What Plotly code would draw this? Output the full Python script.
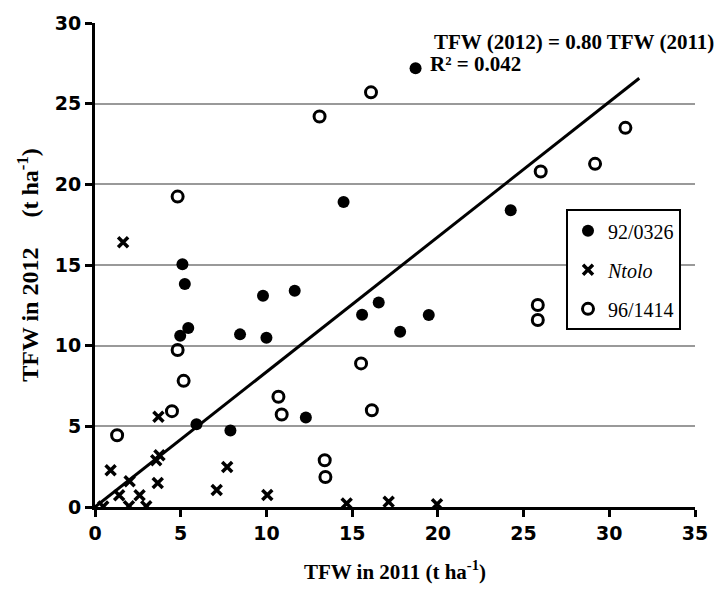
import plotly.graph_objects as go

# ---- data ----
g1_x = [18.7, 14.5, 24.25, 5.1, 5.24, 9.8, 11.65, 5.44, 4.97, 8.46, 10.0, 16.55, 15.58, 17.8, 19.47, 5.92, 7.9, 12.3]
g1_y = [27.2, 18.9, 18.4, 15.05, 13.82, 13.1, 13.41, 11.1, 10.62, 10.7, 10.49, 12.67, 11.92, 10.86, 11.9, 5.13, 4.74, 5.55]

nt_x = [1.64, 3.7, 0.91, 3.76, 3.57, 3.66, 2.02, 1.41, 2.6, 0.48, 1.98, 2.99, 7.71, 7.1, 10.05, 14.68, 17.13, 19.95]
nt_y = [16.41, 5.59, 2.28, 3.21, 2.9, 1.49, 1.6, 0.73, 0.73, 0.03, 0.05, 0.04, 2.48, 1.06, 0.75, 0.22, 0.33, 0.17]

g3_x = [13.1, 16.1, 4.82, 26.0, 29.17, 30.94, 25.83, 25.83, 4.82, 5.17, 4.49, 1.29, 10.7, 10.89, 16.15, 13.4, 13.44, 15.52]
g3_y = [24.2, 25.7, 19.24, 20.8, 21.27, 23.5, 12.52, 11.59, 9.73, 7.82, 5.94, 4.45, 6.83, 5.73, 6.0, 2.9, 1.86, 8.9]

trend_x = [0.0, 31.75]
trend_slope = 0.837
trend_y = [trend_slope * v for v in trend_x]

x_ticks = [0, 5, 10, 15, 20, 25, 30, 35]
y_ticks = [0, 5, 10, 15, 20, 25, 30]

eq_text = "TFW (2012) = 0.80 TFW (2011)"
r2_text = "R² = 0.042"

serif = "Liberation Serif"
tickfont = dict(family="DejaVu Sans", size=19, color="black", weight=900)

fig = go.Figure()
fig.add_trace(go.Scatter(x=trend_x, y=trend_y, mode="lines", line=dict(color="black", width=3),
                         showlegend=False, hoverinfo="skip"))
fig.add_trace(go.Scatter(x=g1_x, y=g1_y, mode="markers", name="92/0326", legendgroup="a",
                         marker=dict(symbol="circle", size=12, color="black")))
fig.add_trace(go.Scatter(x=nt_x, y=nt_y, mode="markers", name="<i>Ntolo</i>", legendgroup="b",
                         marker=dict(symbol="x-thin-open", size=10, color="black",
                                     line=dict(width=3.5, color="black"))))
fig.add_trace(go.Scatter(x=g3_x, y=g3_y, mode="markers", name="96/1414", legendgroup="c",
                         marker=dict(symbol="circle-open", size=11, color="black",
                                     line=dict(width=3, color="black"))))

fig.update_layout(
    width=720, height=594,
    margin=dict(l=95, r=20, t=23, b=87),
    paper_bgcolor="white", plot_bgcolor="white",
    xaxis=dict(range=[0, 35], tickvals=x_ticks,
               ticktext=["<b>%d</b>" % v for v in x_ticks],
               showgrid=False, zeroline=False,
               showline=True, linecolor="black", linewidth=3,
               ticks="outside", ticklen=7, tickwidth=3, tickcolor="black",
               tickfont=tickfont,
               title=dict(text="TFW in 2011 (t ha<sup>-1</sup>)",
                          font=dict(family=serif, size=21, color="black", weight="bold"), standoff=22)),
    yaxis=dict(range=[0, 30], tickvals=y_ticks,
               ticktext=["<b>%d</b>" % v for v in y_ticks],
               showgrid=True, gridcolor="#999999", gridwidth=2,
               zeroline=False, showline=True, linecolor="black", linewidth=3,
               ticks="outside", ticklen=7, tickwidth=3, tickcolor="black",
               tickfont=tickfont,
               title=dict(text="TFW in 2012     (t ha<sup>-1</sup>)",
                          font=dict(family=serif, size=24, color="black", weight="bold"), standoff=10)),
    legend=dict(x=0.785, y=0.615, xanchor="left", yanchor="top",
                bordercolor="black", borderwidth=2, bgcolor="white",
                font=dict(family=serif, size=20, color="black"),
                tracegroupgap=10, itemwidth=30),
    annotations=[
        dict(x=1.035, y=0.96, xref="paper", yref="paper", xanchor="right", yanchor="middle",
             text="<b>" + eq_text + "</b>", showarrow=False,
             font=dict(family=serif, size=21, color="black")),
        dict(x=0.555, y=0.915, xref="paper", yref="paper", xanchor="left", yanchor="middle",
             text="<b>" + r2_text + "</b>", showarrow=False,
             font=dict(family=serif, size=21, color="black")),
    ],
)

fig.write_html("out.html")
